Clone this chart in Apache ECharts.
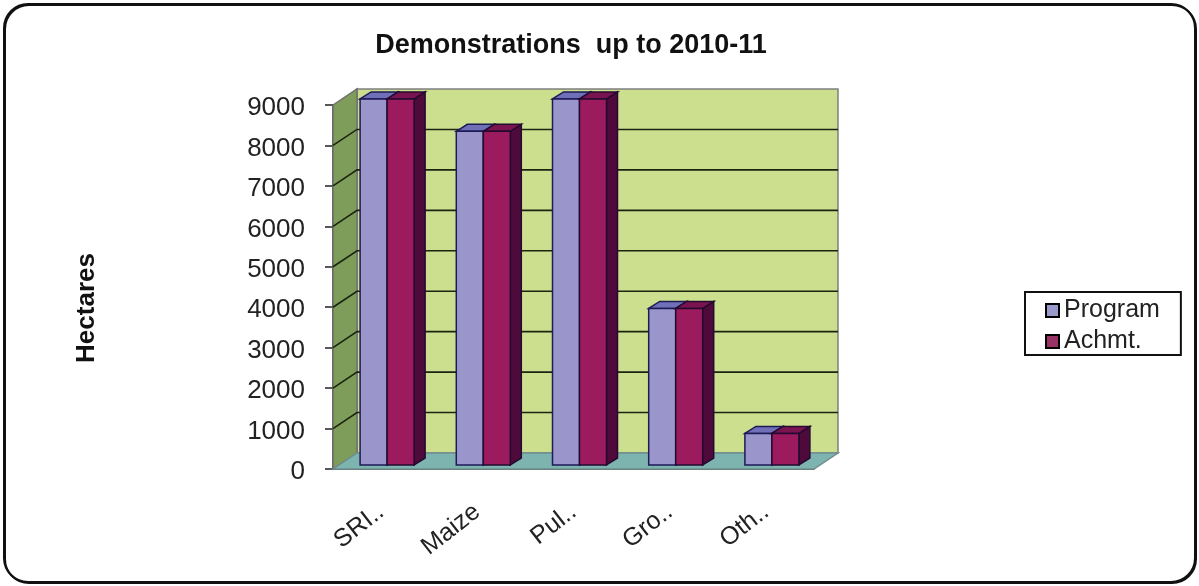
<!DOCTYPE html>
<html>
<head>
<meta charset="utf-8">
<style>
    html, body { margin: 0; padding: 0; background: #fff; }
    #chart { width: 1199px; height: 586px; }
</style>
<script src="https://cdn.jsdelivr.net/npm/echarts@6/dist/echarts.min.js"></script>
</head>
<body>
<div id="chart"></div>
<script>
const categories = ['SRI..', 'Maize', 'Pul..', 'Gro..', 'Oth..'];
const programValues = [9050, 8250, 9050, 3870, 780];
const achievedValues = [9050, 8250, 9050, 3870, 780];
const yTicks = [0, 1000, 2000, 3000, 4000, 5000, 6000, 7000, 8000, 9000];

const FONT = '"Liberation Sans", Arial, sans-serif';
// offset of the back wall from the axes, in pixels
const WALL_DX = 24;
const WALL_DY = -16;

function poly(points, fill, stroke, lineWidth) {
    return {
        type: 'polygon',
        shape: { points },
        style: { fill, stroke, lineWidth: lineWidth || 0 }
    };
}

// Side wall, floor and back wall, drawn once
function renderWalls(params, api) {
    const band = api.size([1, 0])[0];
    const top = api.coord([0, 9000])[1];
    const base = api.coord([0, 0])[1];
    const left = api.coord([0, 0])[0] - band / 2;
    const right = api.coord([categories.length - 1, 0])[0] + band / 2;
    return {
        type: 'group',
        children: [
            poly([[left + WALL_DX, top + WALL_DY], [right + WALL_DX, top + WALL_DY], [right + WALL_DX, base + WALL_DY], [left + WALL_DX, base + WALL_DY]], '#cbdf8e', '#7f7f7f', 1.5),
            poly([[left, top], [left + WALL_DX, top + WALL_DY], [left + WALL_DX, base + WALL_DY], [left, base]], '#7f9d5a', '#6f6f6f', 1.5),
            poly([[left, base], [left + WALL_DX, base + WALL_DY], [right + WALL_DX, base + WALL_DY], [right, base]], '#7db4b0', '#6f8f8f', 1.5)
        ]
    };
}

// One gridline per tick, across the side wall and the back wall
function renderGridline(params, api) {
    const band = api.size([1, 0])[0];
    const y = api.coord([0, api.value(0)])[1];
    const left = api.coord([0, 0])[0] - band / 2;
    const right = api.coord([categories.length - 1, 0])[0] + band / 2;
    return {
        type: 'polyline',
        shape: { points: [[left, y], [left + WALL_DX, y + WALL_DY], [right + WALL_DX, y + WALL_DY]] },
        style: { fill: null, stroke: '#1c2410', lineWidth: 1.6 }
    };
}

function makeBarRenderer(side, colors) {
    const BAR_W = 27;
    const DEPTH_X = 11;
    const DEPTH_Y = -7;
    const SHIFT_X = 6;
    const SHIFT_Y = -4;
    return function (params, api) {
        const end = api.coord([api.value(0), api.value(1)]);
        const start = api.coord([api.value(0), 0]);
        const x0 = end[0] + SHIFT_X + (side === 0 ? -BAR_W : 0);
        const x1 = x0 + BAR_W;
        const yTop = end[1] + SHIFT_Y;
        const yBase = start[1] + SHIFT_Y;
        return {
            type: 'group',
            children: [
                poly([[x1, yTop], [x1 + DEPTH_X, yTop + DEPTH_Y], [x1 + DEPTH_X, yBase + DEPTH_Y], [x1, yBase]], colors.side, colors.line, 1.5),
                poly([[x0, yTop], [x0 + DEPTH_X, yTop + DEPTH_Y], [x1 + DEPTH_X, yTop + DEPTH_Y], [x1, yTop]], colors.top, colors.line, 1.5),
                poly([[x0, yTop], [x1, yTop], [x1, yBase], [x0, yBase]], colors.face, colors.line, 1.5)
            ]
        };
    };
}

const chart = echarts.init(document.getElementById('chart'));

chart.setOption({
    animation: false,
    backgroundColor: '#fff',
    title: {
        text: 'Demonstrations  up to 2010-11',
        left: 566,
        top: 27,
        textAlign: 'center',
        textStyle: { fontFamily: FONT, fontSize: 27, fontWeight: 'bold', color: '#111' }
    },
    grid: { left: 333, top: 105, width: 481, height: 364 },
    legend: {
        left: 1025,
        top: 292,
        orient: 'vertical',
        data: ['Program', 'Achmt.'],
        icon: 'rect',
        itemWidth: 13,
        itemHeight: 13,
        itemGap: 6,
        padding: [6, 21, 1, 20],
        borderColor: '#111',
        borderWidth: 2,
        backgroundColor: '#fff',
        textStyle: { fontFamily: FONT, fontSize: 25, color: '#222', padding: [0, 0, 0, 0] },
        itemStyle: { borderColor: '#000', borderWidth: 2 }
    },
    xAxis: {
        type: 'category',
        data: categories,
        axisLine: { lineStyle: { color: '#222', width: 1.5 } },
        axisTick: { length: 11, lineStyle: { color: '#222', width: 1.5 } },
        axisLabel: {
            interval: 0,
            rotate: 38,
            margin: 40,
            fontFamily: FONT,
            fontSize: 25,
            color: '#222'
        }
    },
    yAxis: {
        type: 'value',
        min: 0,
        max: 9000,
        interval: 1000,
        name: 'Hectares',
        nameLocation: 'middle',
        nameGap: 233,
        nameRotate: 90,
        nameTextStyle: { fontFamily: FONT, fontSize: 26, fontWeight: 'bold', color: '#111', padding: [0, 42, 0, 0] },
        axisLine: { show: true, lineStyle: { color: '#222', width: 1.5 } },
        axisTick: { show: true, length: 8, lineStyle: { color: '#222', width: 1.5 } },
        splitLine: { show: false },
        axisLabel: {
            margin: 28,
            fontFamily: FONT,
            fontSize: 26,
            color: '#222',
            // labels sit a few pixels below their ticks in the original
            verticalAlign: 'top',
            lineHeight: 6,
            formatter: value => String(value)
        }
    },
    graphic: [{
        type: 'rect',
        silent: true,
        z: -1,
        shape: { x: 4, y: 4, width: 1191, height: 578, r: 24 },
        style: { fill: null, stroke: '#111', lineWidth: 2, shadowColor: '#111', shadowOffsetX: 1, shadowOffsetY: 1, shadowBlur: 0 }
    }],
    series: [
        {
            name: 'walls',
            type: 'custom',
            silent: true,
            data: [[0]],
            renderItem: renderWalls,
            z: 1
        },
        {
            name: 'gridlines',
            type: 'custom',
            silent: true,
            data: yTicks.slice(1, -1).map(v => [v]),
            encode: { y: 0 },
            renderItem: renderGridline,
            z: 2
        },
        {
            name: 'Program',
            type: 'custom',
            data: programValues.map((v, i) => [i, v]),
            encode: { x: 0, y: 1 },
            itemStyle: { color: '#9999cc' },
            renderItem: makeBarRenderer(0, { face: '#9a96cc', top: '#6f70b8', side: '#4e4e86', line: '#1d1a55' }),
            z: 3
        },
        {
            name: 'Achmt.',
            type: 'custom',
            data: achievedValues.map((v, i) => [i, v]),
            encode: { x: 0, y: 1 },
            itemStyle: { color: '#993366' },
            renderItem: makeBarRenderer(1, { face: '#9b1b5e', top: '#7a1450', side: '#4f0a3c', line: '#240a30' }),
            z: 4
        }
    ]
});
</script>
</body>
</html>
